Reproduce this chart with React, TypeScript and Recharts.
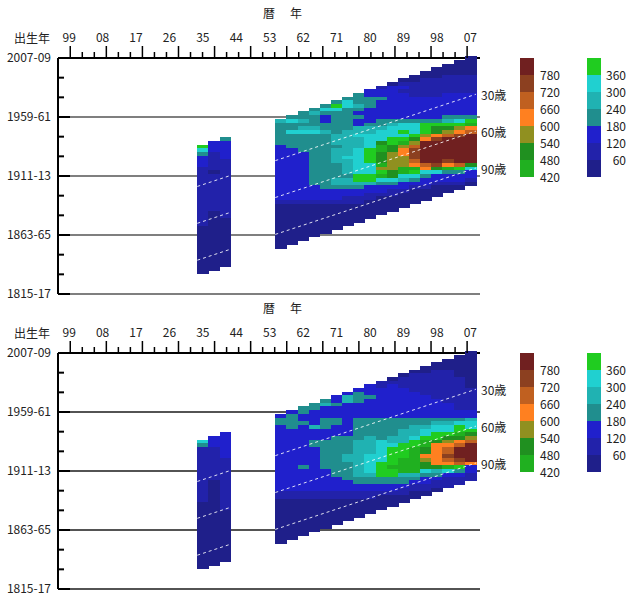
import React from 'react';
import { ScatterChart, Scatter, XAxis, YAxis, ReferenceLine, ReferenceDot } from 'recharts';

// 3-year periods (centre year). Each rate row runs from the youngest 3-year
// birth cohort (born period+1) down to the oldest, 3 years per step.
const periods = [1935, 1938, 1941, 1956, 1959, 1962, 1965, 1968, 1971, 1974, 1977, 1980, 1983, 1986, 1989, 1992, 1995, 1998, 2001, 2004, 2007];

const upperRates: number[][] = [
    [390, 330, 210, 150, 150, 150, 90, 90, 90, 90, 90, 90, 90, 90, 90, 90, 90, 90, 90, 90, 90, 90, 30, 30, 30, 30, 30, 30, 30, 30, 30, 30, 30, 30, 30],
    [150, 150, 150, 90, 90, 90, 90, 90, 30, 90, 90, 90, 90, 90, 90, 90, 90, 90, 90, 30, 30, 30, 30, 30, 30, 30, 30, 30, 30, 30, 30, 30, 30, 30, 30],
    [210, 150, 150, 150, 150, 150, 90, 90, 90, 90, 90, 90, 90, 90, 90, 90, 90, 90, 90, 90, 90, 90, 30, 30, 30, 30, 30, 30, 30, 30, 30, 30, 30, 30, 30],
    [270, 210, 210, 210, 210, 210, 210, 150, 150, 150, 150, 150, 150, 150, 150, 150, 150, 150, 150, 150, 150, 150, 90, 30, 30, 30, 30, 30, 30, 30, 30, 30, 30, 30, 30],
    [210, 330, 210, 210, 330, 210, 210, 210, 210, 150, 150, 150, 150, 150, 150, 150, 150, 150, 150, 150, 150, 150, 150, 90, 30, 30, 30, 30, 30, 30, 30, 30, 30, 30, 30],
    [210, 210, 270, 210, 270, 330, 210, 210, 210, 210, 210, 150, 150, 150, 150, 150, 150, 150, 150, 150, 150, 150, 150, 150, 90, 30, 30, 30, 30, 30, 30, 30, 30, 30, 30],
    [210, 270, 210, 210, 210, 270, 330, 210, 210, 210, 210, 210, 210, 210, 210, 210, 210, 210, 210, 210, 210, 150, 150, 150, 150, 90, 30, 30, 30, 30, 30, 30, 30, 30, 30],
    [210, 330, 210, 150, 150, 210, 210, 270, 210, 210, 210, 210, 210, 210, 210, 210, 210, 210, 210, 210, 210, 210, 210, 150, 150, 150, 90, 30, 30, 30, 30, 30, 30, 30, 30],
    [210, 390, 330, 210, 210, 210, 210, 210, 210, 270, 270, 270, 210, 270, 270, 270, 270, 210, 210, 210, 210, 270, 270, 210, 150, 150, 150, 90, 30, 30, 30, 30, 30, 30, 30],
    [210, 330, 330, 210, 210, 210, 210, 210, 210, 270, 270, 270, 270, 270, 270, 270, 330, 270, 270, 270, 270, 210, 270, 270, 210, 150, 150, 90, 90, 30, 30, 30, 30, 30, 30],
    [210, 210, 210, 270, 210, 150, 210, 150, 150, 270, 270, 330, 270, 270, 270, 330, 330, 330, 330, 330, 330, 330, 390, 390, 270, 210, 150, 150, 90, 90, 30, 30, 30, 30, 30],
    [150, 150, 210, 210, 210, 150, 150, 150, 150, 210, 270, 270, 330, 330, 330, 330, 390, 390, 390, 390, 330, 330, 330, 390, 390, 270, 150, 150, 90, 90, 30, 30, 30, 30, 30],
    [90, 150, 150, 210, 150, 150, 150, 150, 150, 210, 210, 270, 330, 330, 330, 510, 450, 450, 510, 510, 510, 450, 570, 390, 450, 330, 210, 150, 150, 90, 30, 30, 30, 30, 30],
    [30, 150, 150, 150, 150, 150, 150, 150, 150, 150, 210, 270, 330, 330, 330, 390, 390, 510, 510, 570, 570, 570, 570, 570, 510, 510, 330, 210, 150, 90, 90, 30, 30, 30, 30],
    [30, 90, 150, 90, 150, 150, 150, 150, 150, 150, 150, 210, 330, 330, 390, 330, 390, 450, 570, 630, 630, 570, 570, 570, 450, 450, 330, 270, 150, 150, 90, 30, 30, 30, 30],
    [30, 30, 90, 90, 90, 90, 150, 150, 150, 150, 150, 150, 210, 330, 330, 330, 390, 510, 570, 690, 750, 750, 750, 690, 630, 450, 390, 330, 210, 150, 90, 30, 30, 30, 30],
    [30, 30, 90, 90, 90, 90, 90, 150, 150, 150, 150, 150, 150, 210, 390, 390, 390, 570, 630, 810, 810, 810, 810, 810, 810, 690, 630, 330, 210, 150, 150, 90, 30, 30, 30],
    [30, 30, 30, 90, 90, 90, 90, 90, 150, 150, 150, 150, 150, 150, 210, 390, 510, 510, 630, 750, 810, 810, 810, 810, 810, 810, 750, 510, 330, 150, 150, 90, 30, 30, 30],
    [30, 30, 30, 90, 90, 90, 90, 90, 150, 150, 150, 150, 150, 150, 210, 270, 390, 510, 570, 690, 810, 810, 810, 810, 810, 810, 750, 630, 450, 210, 150, 150, 90, 30, 30],
    [30, 30, 30, 30, 90, 90, 90, 90, 90, 150, 150, 150, 150, 150, 150, 210, 330, 390, 570, 630, 750, 810, 810, 810, 810, 810, 810, 810, 690, 390, 210, 150, 150, 90, 30],
    [30, 30, 30, 30, 30, 90, 90, 90, 90, 90, 150, 150, 150, 150, 150, 150, 210, 390, 450, 630, 690, 810, 810, 810, 810, 810, 810, 810, 810, 510, 330, 150, 150, 90, 30],
];

const lowerRates: number[][] = [
    [330, 210, 90, 90, 90, 90, 90, 90, 90, 90, 90, 90, 90, 90, 90, 90, 90, 30, 30, 30, 30, 30, 30, 30, 30, 30, 30, 30, 30, 30, 30, 30, 30, 30, 30],
    [150, 150, 150, 90, 90, 90, 90, 90, 90, 90, 90, 90, 30, 30, 30, 30, 30, 30, 30, 30, 30, 30, 30, 30, 30, 30, 30, 30, 30, 30, 30, 30, 30, 30, 30],
    [150, 150, 150, 150, 150, 150, 150, 90, 90, 90, 90, 90, 90, 90, 90, 90, 90, 90, 90, 90, 90, 30, 30, 30, 30, 30, 30, 30, 30, 30, 30, 30, 30, 30, 30],
    [150, 210, 210, 150, 150, 150, 150, 150, 150, 150, 150, 150, 150, 150, 150, 150, 150, 150, 150, 150, 150, 90, 90, 30, 30, 30, 30, 30, 30, 30, 30, 30, 30, 30, 30],
    [150, 210, 210, 210, 210, 150, 150, 150, 150, 150, 150, 150, 150, 150, 150, 150, 150, 150, 150, 150, 150, 150, 90, 90, 30, 30, 30, 30, 30, 30, 30, 30, 30, 30, 30],
    [210, 210, 150, 150, 210, 150, 150, 150, 150, 150, 150, 150, 150, 150, 150, 150, 210, 150, 150, 150, 150, 150, 150, 90, 90, 30, 30, 30, 30, 30, 30, 30, 30, 30, 30],
    [210, 210, 150, 150, 150, 150, 270, 150, 150, 150, 210, 210, 150, 150, 150, 150, 150, 150, 150, 150, 150, 150, 150, 150, 90, 90, 30, 30, 30, 30, 30, 30, 30, 30, 30],
    [210, 270, 150, 150, 150, 210, 210, 210, 150, 150, 150, 210, 210, 210, 210, 210, 210, 210, 210, 150, 150, 150, 150, 150, 150, 90, 90, 30, 30, 30, 30, 30, 30, 30, 30],
    [150, 150, 210, 150, 150, 150, 210, 210, 150, 150, 150, 210, 210, 210, 210, 210, 210, 210, 210, 210, 210, 210, 150, 150, 150, 150, 90, 90, 30, 30, 30, 30, 30, 30, 30],
    [150, 270, 270, 150, 150, 150, 150, 150, 150, 150, 150, 150, 210, 210, 210, 210, 210, 270, 270, 210, 210, 210, 210, 210, 150, 150, 150, 90, 90, 30, 30, 30, 30, 30, 30],
    [150, 210, 210, 210, 150, 150, 150, 150, 210, 210, 210, 210, 210, 210, 270, 270, 270, 270, 270, 270, 270, 270, 270, 270, 210, 210, 150, 150, 90, 90, 30, 30, 30, 30, 30],
    [150, 150, 150, 210, 150, 150, 150, 150, 150, 210, 210, 210, 210, 210, 270, 270, 270, 270, 270, 330, 330, 330, 330, 330, 270, 210, 210, 150, 150, 90, 90, 30, 30, 30, 30],
    [90, 90, 150, 150, 150, 150, 150, 150, 150, 150, 210, 210, 210, 210, 210, 210, 330, 330, 330, 330, 330, 330, 390, 390, 390, 390, 210, 210, 150, 150, 90, 30, 30, 30, 30],
    [30, 90, 150, 150, 150, 150, 150, 150, 150, 150, 150, 210, 210, 210, 210, 210, 270, 270, 330, 390, 390, 390, 390, 390, 450, 390, 390, 210, 210, 150, 150, 90, 30, 30, 30],
    [30, 90, 90, 90, 150, 150, 150, 150, 150, 150, 150, 150, 210, 210, 210, 270, 270, 270, 270, 390, 390, 390, 390, 450, 450, 450, 450, 270, 210, 210, 150, 90, 90, 30, 30],
    [30, 90, 90, 90, 90, 90, 150, 150, 150, 150, 150, 150, 150, 210, 210, 270, 270, 270, 330, 390, 390, 450, 450, 450, 450, 450, 450, 450, 270, 210, 150, 90, 90, 30, 30],
    [30, 30, 90, 90, 90, 90, 90, 90, 150, 150, 150, 150, 150, 150, 210, 210, 270, 330, 330, 390, 450, 450, 510, 510, 630, 570, 510, 510, 330, 210, 150, 150, 90, 90, 30],
    [30, 30, 90, 90, 90, 90, 90, 90, 90, 90, 150, 150, 150, 150, 150, 210, 270, 330, 330, 390, 390, 510, 630, 630, 630, 630, 630, 630, 510, 270, 210, 150, 90, 90, 30],
    [30, 30, 30, 90, 90, 90, 90, 90, 90, 90, 90, 90, 150, 150, 150, 150, 210, 270, 330, 330, 390, 510, 570, 630, 690, 690, 750, 690, 630, 450, 330, 150, 90, 90, 90],
    [30, 30, 30, 30, 30, 30, 90, 90, 90, 90, 90, 90, 90, 90, 90, 150, 150, 210, 330, 390, 390, 450, 510, 630, 690, 810, 810, 810, 750, 690, 390, 210, 150, 90, 90],
    [30, 30, 30, 30, 30, 30, 30, 30, 30, 30, 90, 90, 90, 90, 90, 90, 150, 150, 270, 330, 330, 390, 510, 570, 690, 810, 810, 810, 810, 810, 630, 150, 150, 90, 90],
];

// colour classes: upper bounds and colours (last class is 780 and over)
const rateBreaks = [60, 120, 180, 240, 300, 360, 420, 480, 540, 600, 660, 720, 780];
const rateColors = ['#1f1f8a', '#2222aa', '#2020cc', '#208e8e', '#20b2b2', '#20d0d0', '#20cc20', '#20b020', '#209020', '#909020', '#ff8020', '#c06020', '#8c4020', '#702020'];

const yearTickValues = [1899, 1908, 1917, 1926, 1935, 1944, 1953, 1962, 1971, 1980, 1989, 1998, 2007];
const yearTickLabels = ['99', '08', '17', '26', '35', '44', '53', '62', '71', '80', '89', '98', '07'];
const cohortLabelValues = [2008, 1960, 1912, 1864, 1816];
const cohortLabels = ['2007-09', '1959-61', '1911-13', '1863-65', '1815-17'];
const ageLines = [30, 60, 90];
const ageLabels = ['30歳', '60歳', '90歳'];
const surveySpans = [[1933.5, 1942.5], [1954.5, 2008.5]];

const FONT = '"Noto Sans CJK JP", "Noto Sans", sans-serif';
const W = 630;
const H = 300;
const MARGIN = { top: 56, right: 150, bottom: 6, left: 0 };
const Y_AXIS_W = 58;
const X_DOMAIN: [number, number] = [1896, 2009.6];
const Y_DOMAIN: [number, number] = [1816, 2008];
const plotW = W - MARGIN.left - MARGIN.right - Y_AXIS_W;
const plotH = H - MARGIN.top - 2 - MARGIN.bottom;
const cellW = (3 * plotW) / (X_DOMAIN[1] - X_DOMAIN[0]);
const cellH = (3 * plotH) / (Y_DOMAIN[1] - Y_DOMAIN[0]);

// tick marks of the year axis are not aligned with its labels in the original
const markTicks = Array.from({ length: 34 }, (_, i) => 1899.3 + i * 3.2373);
const cohortTicks = Array.from({ length: 13 }, (_, i) => 1816 + 16 * i);

const colorFor = (v: number) => {
    const idx = rateBreaks.findIndex((b) => v < b);
    return rateColors[idx < 0 ? rateColors.length - 1 : idx];
};

const toCells = (table: number[][]) =>
    table.flatMap((col, i) => col.map((v, r) => ({ year: periods[i], cohort: periods[i] + 1 - 3 * r, v })));

const CellRect = (props: any) => {
    const { cx, cy, payload } = props;
    if (cx == null || cy == null) return null;
    return (
        <rect
            x={cx - cellW / 2}
            y={cy - cellH / 2}
            width={cellW + 0.6}
            height={cellH + 0.6}
            fill={colorFor(payload.v)}
            shapeRendering="crispEdges"
        />
    );
};

const MarkTick = (props: any) => {
    const { x, y, index } = props;
    const len = index % 3 === 0 ? 12 : 6;
    return <line x1={x} x2={x} y1={y} y2={y - len} stroke="#000" strokeWidth={1.5} />;
};

const CohortTick = (props: any) => {
    const { x, y, payload } = props;
    const idx = cohortLabelValues.indexOf(payload.value);
    const major = idx >= 0;
    return (
        <g>
            <line x1={x} x2={x + (major ? 12 : 6)} y1={y} y2={y} stroke="#000" strokeWidth={2} />
            {major && (
                <text x={x - 7} y={y} dy={4} textAnchor="end" fontSize={12} fill="#222" fontFamily={FONT}>
                    {cohortLabels[idx]}
                </text>
            )}
        </g>
    );
};

interface LexisProps {
    rates: number[][];
    top: number;
    lineColor: string;
    lineOpacity: number;
    lineWidth: number;
}

function LexisChart({ rates, top, lineColor, lineOpacity, lineWidth }: LexisProps) {
    const cells = toCells(rates);
    return (
        <div style={{ position: 'absolute', left: 0, top }}>
            <ScatterChart width={W} height={H} margin={MARGIN} style={{ fontFamily: FONT }}>
                <XAxis
                    xAxisId="yr"
                    dataKey="year"
                    type="number"
                    orientation="top"
                    domain={X_DOMAIN}
                    ticks={yearTickValues}
                    interval={0}
                    height={1}
                    tickSize={0}
                    tickMargin={15}
                    tickLine={false}
                    axisLine={false}
                    tick={{ fontSize: 12, fill: '#222' }}
                    tickFormatter={(v: number) => yearTickLabels[yearTickValues.indexOf(v)]}
                />
                <XAxis
                    xAxisId="marks"
                    dataKey="year"
                    type="number"
                    orientation="top"
                    domain={X_DOMAIN}
                    allowDataOverflow
                    ticks={markTicks}
                    interval={0}
                    height={1}
                    tickSize={0}
                    tickMargin={0}
                    tickLine={false}
                    axisLine={false}
                    tick={<MarkTick />}
                />
                <YAxis
                    yAxisId="coh"
                    dataKey="cohort"
                    type="number"
                    domain={Y_DOMAIN}
                    ticks={cohortTicks}
                    interval={0}
                    width={Y_AXIS_W}
                    tickSize={0}
                    tickMargin={0}
                    tickLine={false}
                    axisLine={{ stroke: '#000', strokeWidth: 2 }}
                    tick={<CohortTick />}
                />
                <Scatter
                    xAxisId="yr"
                    yAxisId="coh"
                    data={cells}
                    shape={(p: any) => <CellRect {...p} />}
                    isAnimationActive={false}
                />
                {surveySpans.flatMap(([a, b]) =>
                    ageLines.map((age) => (
                        <Scatter
                            key={`${a}-${age}`}
                            xAxisId="marks"
                            yAxisId="coh"
                            data={[
                                { year: a, cohort: a - age },
                                { year: b, cohort: b - age },
                            ]}
                            line={{ stroke: '#ffffff', strokeOpacity: 0.85, strokeWidth: 1, strokeDasharray: '3 3' }}
                            lineType="joint"
                            shape={() => <g />}
                            isAnimationActive={false}
                        />
                    ))
                )}
                {[1960, 1912, 1864, 1816].map((c) => (
                    <ReferenceLine
                        key={c}
                        xAxisId="yr"
                        yAxisId="coh"
                        y={c}
                        stroke={lineColor}
                        strokeOpacity={lineOpacity}
                        strokeWidth={lineWidth}
                    />
                ))}
                <ReferenceLine xAxisId="yr" yAxisId="coh" y={2008} stroke="#000" strokeWidth={2} />
                {ageLines.map((age, i) => (
                    <ReferenceDot
                        key={age}
                        xAxisId="yr"
                        yAxisId="coh"
                        x={X_DOMAIN[1]}
                        y={2007 - age}
                        r={0}
                        fill="none"
                        stroke="none"
                        label={{ value: ageLabels[i], position: 'right', offset: 1, fontSize: 12, fill: '#222' }}
                    />
                ))}
            </ScatterChart>
        </div>
    );
}

function RateLegend({ top }: { top: number }) {
    const seg = 17;
    const leftLevels = [13, 12, 11, 10, 9, 8, 7];
    const rightLevels = [6, 5, 4, 3, 2, 1, 0];
    const text: React.CSSProperties = { position: 'absolute', fontSize: 12, lineHeight: '12px', color: '#222' };
    return (
        <div style={{ position: 'absolute', left: 0, top, width: 630, fontFamily: FONT }}>
            {leftLevels.map((lv, i) => (
                <div key={lv} style={{ position: 'absolute', left: 520, top: 58 + i * seg, width: 14, height: seg, background: rateColors[lv] }} />
            ))}
            {rightLevels.map((lv, i) => (
                <div key={lv} style={{ position: 'absolute', left: 587, top: 58 + i * seg, width: 14, height: seg, background: rateColors[lv] }} />
            ))}
            {leftLevels.map((lv, i) => (
                <div key={`l${lv}`} style={{ ...text, left: 540, top: 58 + (i + 1) * seg - 6 }}>
                    {rateBreaks[lv - 1]}
                </div>
            ))}
            {rightLevels.slice(0, 6).map((lv, i) => (
                <div key={`r${lv}`} style={{ ...text, left: 600, width: 26, top: 58 + (i + 1) * seg - 6, textAlign: 'right' }}>
                    {rateBreaks[lv - 1]}
                </div>
            ))}
        </div>
    );
}

function Titles({ top }: { top: number }) {
    const t: React.CSSProperties = { position: 'absolute', fontSize: 12, lineHeight: '12px', color: '#222', fontFamily: FONT, whiteSpace: 'pre' };
    return (
        <>
            <div style={{ ...t, left: 263, top: top + 7, letterSpacing: 1.5 }}>暦　年</div>
            <div style={{ ...t, left: 14, top: top + 32 }}>出生年</div>
        </>
    );
}

export default function App() {
    return (
        <div style={{ position: 'absolute', left: 0, top: 0, width: 630, height: 599, background: '#fff', overflow: 'hidden' }}>
            <LexisChart rates={upperRates} top={0} lineColor="#000" lineOpacity={0.5} lineWidth={2} />
            <Titles top={0} />
            <RateLegend top={0} />
            <LexisChart rates={lowerRates} top={295} lineColor="#1a1a1a" lineOpacity={1} lineWidth={1.5} />
            <Titles top={295} />
            <RateLegend top={295} />
        </div>
    );
}
